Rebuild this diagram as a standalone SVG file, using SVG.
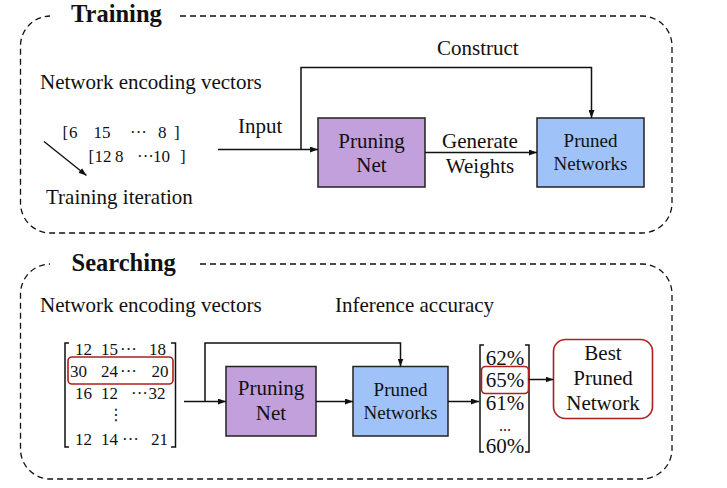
<svg xmlns="http://www.w3.org/2000/svg" width="727" height="488" viewBox="0 0 727 488">
<style>
text{font-family:"Liberation Serif","Times New Roman",serif;fill:#111}
.t{font-size:21px}
.h{font-size:24.5px;font-weight:bold}
.m{font-size:17px}
.s{font-size:19px}
.dash{fill:none;stroke:#111;stroke-width:1.3;stroke-dasharray:6 4}
.ln{fill:none;stroke:#111;stroke-width:1.5}
.pn{fill:#C2A0DC;stroke:#222;stroke-width:1.5}
.pd{fill:#9FC3F9;stroke:#222;stroke-width:1.5}
.red{fill:none;stroke:#B01E1E;stroke-width:1.6}
</style>
<defs>
<marker id="ah" markerWidth="8" markerHeight="6" refX="8" refY="3" orient="auto" markerUnits="userSpaceOnUse">
<path d="M0,0 L8,3 L0,6 z" fill="#111"/>
</marker>
</defs>
<rect width="727" height="488" fill="#fff"/>

<!-- Training frame -->
<g id="training-frame">
<path class="dash" d="M180,16 H642 A30,30 0 0 1 672,46 V203 A30,30 0 0 1 642,233 H50 A30,30 0 0 1 20.5,203 V46 A30,30 0 0 1 50,16"/>
<text class="h" x="71" y="22">Training</text>
</g>

<g id="training-vectors">
<text class="t" x="40" y="89">Network encoding vectors</text>
<text class="m" y="138"><tspan x="62.5">[</tspan><tspan x="69">6</tspan><tspan x="93.5">15</tspan><tspan x="130">···</tspan><tspan x="158">8</tspan><tspan x="174">]</tspan></text>
<text class="m" y="161.5"><tspan x="88.5">[</tspan><tspan x="94.5">12</tspan><tspan x="115">8</tspan><tspan x="137">···</tspan><tspan x="153">10</tspan><tspan x="180">]</tspan></text>
<text class="t" x="46" y="204">Training iteration</text>
</g>

<g id="pruning-net-1">
<rect class="pn" x="318" y="118" width="107" height="69"/>
<text class="t" x="371.5" y="148" text-anchor="middle">Pruning</text>
<text class="t" x="371.5" y="171.5" text-anchor="middle">Net</text>
</g>

<g id="pruned-networks-1">
<rect class="pd" x="537" y="118" width="107" height="69"/>
<text class="s" x="590.5" y="146.5" text-anchor="middle">Pruned</text>
<text class="s" x="590.5" y="170" text-anchor="middle">Networks</text>
</g>

<!-- Searching frame -->
<g id="searching-frame">
<path class="dash" d="M200,264 H642 A30,30 0 0 1 672,294 V449 A30,30 0 0 1 642,479 H50 A30,30 0 0 1 20.5,449 V294 A30,30 0 0 1 50,264"/>
<text class="h" x="71.5" y="270.5">Searching</text>
</g>

<g id="search-vectors">
<text class="t" x="40" y="312">Network encoding vectors</text>
<path class="ln" d="M69,343 H65 V447 H69 M171,343 H175.5 V447 H171"/>
<text class="m" y="355"><tspan x="75">12</tspan><tspan x="101">15</tspan><tspan x="120">···</tspan><tspan x="149">18</tspan></text>
<text class="m" y="377"><tspan x="70">30</tspan><tspan x="101">24</tspan><tspan x="120">···</tspan><tspan x="151.5">20</tspan></text>
<text class="m" y="398.5"><tspan x="75">16</tspan><tspan x="101">12</tspan><tspan x="131">···</tspan><tspan x="148.5">32</tspan></text>
<text x="116" y="420" font-size="16" text-anchor="middle" style="font-family:'DejaVu Serif','DejaVu Sans',serif">⋮</text>
<text class="m" y="445"><tspan x="75">12</tspan><tspan x="101">14</tspan><tspan x="122">···</tspan><tspan x="151">21</tspan></text>
<rect class="red" x="68" y="357" width="105" height="27" rx="4"/>
</g>

<g id="pruning-net-2">
<rect class="pn" x="226" y="366.5" width="90" height="69.5"/>
<text class="t" x="271" y="395" text-anchor="middle">Pruning</text>
<text class="t" x="271" y="420" text-anchor="middle">Net</text>
</g>

<g id="pruned-networks-2">
<rect class="pd" x="353" y="366.5" width="95" height="69.5"/>
<text class="s" x="400.5" y="396" text-anchor="middle">Pruned</text>
<text class="s" x="400.5" y="418.5" text-anchor="middle">Networks</text>
</g>

<g id="accuracy">
<text class="t" x="335" y="311.5">Inference accuracy</text>
<path class="ln" d="M484,345 H480 V452 H484 M525,345 H529 V452 H525"/>
<text class="t" x="505" y="365" text-anchor="middle">62%</text>
<text class="t" x="505" y="387" text-anchor="middle">65%</text>
<text class="t" x="505" y="410" text-anchor="middle">61%</text>
<text x="505" y="431" font-size="16" text-anchor="middle">...</text>
<text class="t" x="505" y="453" text-anchor="middle">60%</text>
<rect class="red" x="481.5" y="366.5" width="47" height="27" rx="4"/>
</g>

<g id="best-pruned-network">
<rect class="red" x="553.5" y="339.5" width="99" height="79" rx="12"/>
<text class="t" x="603" y="360" text-anchor="middle">Best</text>
<text class="t" x="603" y="385" text-anchor="middle">Pruned</text>
<text class="t" x="603" y="410" text-anchor="middle">Network</text>
</g>

<g id="connectors">
<path class="ln" d="M44,141.5 L86.5,175.5" marker-end="url(#ah)"/>
<path class="ln" d="M218,149.5 H318" marker-end="url(#ah)"/>
<path class="ln" d="M301,149.5 V67.5 H591.5 V118" marker-end="url(#ah)"/>
<path class="ln" d="M425,152.5 H537" marker-end="url(#ah)"/>
<path class="ln" d="M184,401.5 H226" marker-end="url(#ah)"/>
<path class="ln" d="M205,401.5 V343 H400.5 V366.5" marker-end="url(#ah)"/>
<path class="ln" d="M316,401.5 H353" marker-end="url(#ah)"/>
<path class="ln" d="M448,401.5 H479" marker-end="url(#ah)"/>
<path class="ln" d="M528.5,379.5 H553.5" marker-end="url(#ah)"/>
<text class="t" x="238" y="132.5">Input</text>
<text class="t" x="437" y="55">Construct</text>
<text class="t" x="480" y="148" text-anchor="middle">Generate</text>
<text class="t" x="480" y="173" text-anchor="middle">Weights</text>
</g>
</svg>
